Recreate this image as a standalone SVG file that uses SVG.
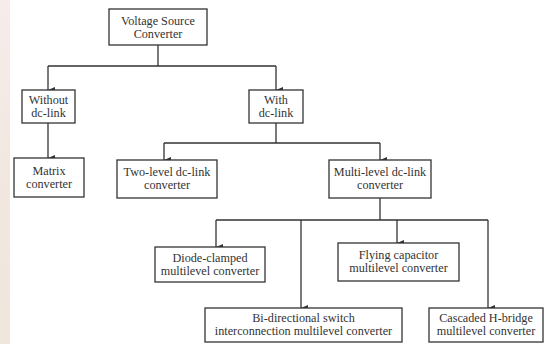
<svg xmlns="http://www.w3.org/2000/svg" width="545" height="344" viewBox="0 0 545 344">
<defs>
<marker id="ah" markerWidth="6" markerHeight="7" refX="3" refY="7" orient="auto-start-reverse" markerUnits="userSpaceOnUse" viewBox="0 0 6 7"><path d="M0,0 L6,0 L3,7 Z" fill="#333"/></marker>
<linearGradient id="bg" x1="0" y1="0" x2="0" y2="1"><stop offset="0" stop-color="#f6ecea"/><stop offset="0.6" stop-color="#f1e7df"/><stop offset="1" stop-color="#efe6dc"/></linearGradient>
</defs>
<style>
.box{fill:#fff;stroke:#333;stroke-width:1.3}
.t{font-family:"Liberation Serif","Times New Roman",serif;font-size:12.2px;fill:#333;text-anchor:middle}
.c{fill:none;stroke:#333;stroke-width:1.3}
.a{fill:none;stroke:#333;stroke-width:1.3;marker-end:url(#ah)}
</style>
<rect width="545" height="344" fill="#fff"/>
<rect x="0" y="0" width="10" height="344" fill="url(#bg)"/>
<g id="connectors">
<path class="c" d="M158,45 V66 M48,66 H276 M276,123 V143 M164,143 H380 M380,198 V220 M216,220 H488"/>
<path class="a" d="M48,66 V90"/>
<path class="a" d="M276,66 V90"/>
<path class="a" d="M48,123 V158"/>
<path class="a" d="M164,143 V160"/>
<path class="a" d="M380,143 V160"/>
<path class="a" d="M216,220 V247"/>
<path class="a" d="M301,220 V308"/>
<path class="a" d="M397,220 V243"/>
<path class="a" d="M488,220 V308"/>
</g>
<g id="vsc"><rect class="box" x="109" y="9" width="98" height="36"/><text class="t" x="158" y="25">Voltage Source</text><text class="t" x="158" y="38">Converter</text></g>
<g id="without"><rect class="box" x="22" y="90" width="53" height="33"/><text class="t" x="48.5" y="103.5">Without</text><text class="t" x="48.5" y="116.5">dc-link</text></g>
<g id="with"><rect class="box" x="249" y="90" width="54" height="33"/><text class="t" x="276" y="103.5">With</text><text class="t" x="276" y="116.5">dc-link</text></g>
<g id="matrix"><rect class="box" x="14" y="158" width="70" height="39"/><text class="t" x="49" y="175">Matrix</text><text class="t" x="49" y="188">converter</text></g>
<g id="twolevel"><rect class="box" x="117" y="160" width="100" height="38"/><text class="t" x="167" y="176">Two-level dc-link</text><text class="t" x="167" y="189">converter</text></g>
<g id="multilevel"><rect class="box" x="329" y="160" width="102" height="38"/><text class="t" x="380" y="176">Multi-level dc-link</text><text class="t" x="380" y="189">converter</text></g>
<g id="diode"><rect class="box" x="155" y="247" width="110" height="35"/><text class="t" x="210" y="262">Diode-clamped</text><text class="t" x="210" y="275">multilevel converter</text></g>
<g id="flying"><rect class="box" x="338" y="243" width="121" height="38"/><text class="t" x="398.5" y="258.5">Flying capacitor</text><text class="t" x="398.5" y="271.5">multilevel converter</text></g>
<g id="bidir"><rect class="box" x="205" y="308" width="197" height="34"/><text class="t" x="303.5" y="322">Bi-directional switch</text><text class="t" x="303.5" y="335">interconnection multilevel converter</text></g>
<g id="cascaded"><rect class="box" x="429" y="308" width="114" height="34"/><text class="t" x="486" y="322">Cascaded H-bridge</text><text class="t" x="486" y="335">multilevel converter</text></g>
</svg>
